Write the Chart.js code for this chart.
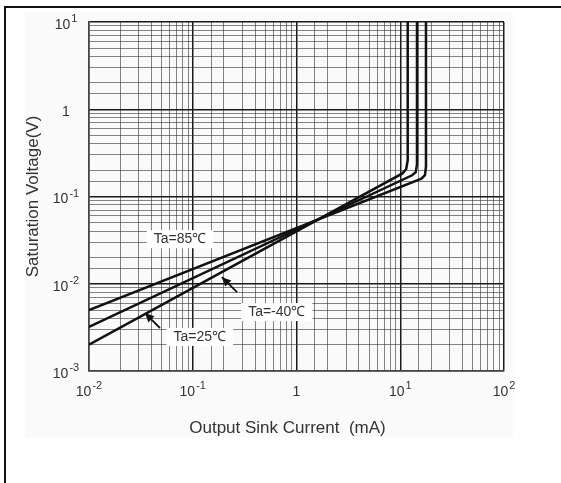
<!DOCTYPE html>
<html>
<head>
<meta charset="utf-8">
<script src="https://cdn.jsdelivr.net/npm/chart.js@4.4.0/dist/chart.umd.min.js"></script>
<style>
  body { margin: 0; background: #fff; }
  #wrap { position: relative; width: 561px; height: 483px; }
  #frame {
    position: absolute; left: 4px; top: 6px; right: 0; bottom: 0;
    border-left: 2px solid #111; border-top: 2px solid #111;
    pointer-events: none;
  }
</style>
</head>
<body>
<div id="wrap">
  <canvas id="grafico-saturacao"></canvas>
  <div id="frame"></div>
</div>
<script>
// Output sink current (mA) vs saturation voltage (V)
const currentTa85 = [0.01, 16, 17.3, 17.7, 17.7];
const voltageTa85 = [0.005, 0.16, 0.176, 0.22, 10];

const currentTaMinus40 = [0.01, 13, 14.1, 14.5, 14.5];
const voltageTaMinus40 = [0.0032, 0.175, 0.19, 0.235, 10];

const currentTa25 = [0.01, 10.5, 11.4, 11.8, 11.8];
const voltageTa25 = [0.002, 0.184, 0.205, 0.26, 10];

// decade tick labels: [base, exponent]
const xTickValues = [0.01, 0.1, 1, 10, 100];
const xTickLabels = [['10', '-2'], ['10', '-1'], ['1', ''], ['10', '1'], ['10', '2']];
const yTickValues = [0.001, 0.01, 0.1, 1, 10];
const yTickLabels = [['10', '-3'], ['10', '-2'], ['10', '-1'], ['1', ''], ['10', '1']];

const xAxisTitle = 'Output Sink Current  (mA)';
const yAxisTitle = 'Saturation Voltage(V)';

// labels with their arrows, in data coordinates
const curveLabels = [
  { text: 'Ta=85℃', x: 0.0754, y: 0.0324 },
  { text: 'Ta=-40℃', x: 0.645, y: 0.00474, arrowFrom: [0.267, 0.00803], arrowTo: [0.191, 0.0119] },
  { text: 'Ta=25℃', x: 0.117, y: 0.00246, arrowFrom: [0.0483, 0.00311], arrowTo: [0.0347, 0.00462] },
];

const toPoints = (xs, ys) => xs.map((x, i) => ({ x: x, y: ys[i] }));

const isDecade = (v) => Math.abs(Math.log10(v) - Math.round(Math.log10(v))) < 1e-6;

const gridColor = (ctx) => {
  if (!ctx.tick) return '#888';
  return isDecade(ctx.tick.value) ? '#1a1a1a' : 'rgba(50,50,50,0.6)';
};
const gridWidth = (ctx) => {
  if (!ctx.tick) return 1;
  return isDecade(ctx.tick.value) ? 1.5 : 1;
};

const fontFamily = "'Liberation Sans', Arial, sans-serif";
const textColor = '#333';

const backdropPlugin = {
  id: 'backdrop',
  beforeDraw(chart) {
    const ctx = chart.ctx;
    ctx.save();
    ctx.fillStyle = '#fafafa';
    ctx.fillRect(25, 12, 488, 425);
    ctx.restore();
  },
};

// draws "10" with a raised exponent, centred on (cx, cy)
function drawPowerLabel(ctx, parts, cx, cy) {
  ctx.font = '14px ' + fontFamily;
  const wBase = ctx.measureText(parts[0]).width;
  ctx.font = '11px ' + fontFamily;
  const wExp = parts[1] ? ctx.measureText(parts[1]).width + 1 : 0;
  const left = cx - (wBase + wExp) / 2;
  ctx.textAlign = 'left';
  ctx.textBaseline = 'middle';
  ctx.fillStyle = textColor;
  ctx.font = '14px ' + fontFamily;
  ctx.fillText(parts[0], left, cy);
  if (parts[1]) {
    ctx.font = '11px ' + fontFamily;
    ctx.fillText(parts[1], left + wBase + 1, cy - 6);
  }
}

const axisTextPlugin = {
  id: 'axisText',
  afterDraw(chart) {
    const ctx = chart.ctx;
    const xs = chart.scales.x;
    const ys = chart.scales.y;
    const area = chart.chartArea;
    ctx.save();
    xTickValues.forEach((v, i) => {
      drawPowerLabel(ctx, xTickLabels[i], xs.getPixelForValue(v), area.bottom + 21);
    });
    yTickValues.forEach((v, i) => {
      drawPowerLabel(ctx, yTickLabels[i], 66, ys.getPixelForValue(v) + 3);
    });

    ctx.font = '17px ' + fontFamily;
    ctx.fillStyle = textColor;
    ctx.textAlign = 'center';
    ctx.textBaseline = 'middle';
    ctx.fillText(xAxisTitle, (area.left + area.right) / 2 - 9, area.bottom + 57);

    ctx.translate(33, (area.top + area.bottom) / 2);
    ctx.rotate(-Math.PI / 2);
    ctx.fillText(yAxisTitle, 0, 0);
    ctx.restore();
  },
};

const labelPlugin = {
  id: 'curveLabels',
  afterDatasetsDraw(chart) {
    const ctx = chart.ctx;
    const xs = chart.scales.x;
    const ys = chart.scales.y;
    ctx.save();
    ctx.font = '14px ' + fontFamily;
    ctx.textAlign = 'center';
    ctx.textBaseline = 'middle';
    curveLabels.forEach((lab) => {
      const px = xs.getPixelForValue(lab.x);
      const py = ys.getPixelForValue(lab.y);
      const w = ctx.measureText(lab.text).width;
      ctx.fillStyle = '#fff';
      ctx.fillRect(px - w / 2 - 7, py - 9, w + 14, 18);
      ctx.fillStyle = textColor;
      ctx.fillText(lab.text, px, py);

      if (lab.arrowFrom) {
        const x0 = xs.getPixelForValue(lab.arrowFrom[0]);
        const y0 = ys.getPixelForValue(lab.arrowFrom[1]);
        const x1 = xs.getPixelForValue(lab.arrowTo[0]);
        const y1 = ys.getPixelForValue(lab.arrowTo[1]);
        const ang = Math.atan2(y1 - y0, x1 - x0);
        ctx.strokeStyle = '#111';
        ctx.lineWidth = 1.8;
        ctx.beginPath();
        ctx.moveTo(x0, y0);
        ctx.lineTo(x1, y1);
        ctx.stroke();
        ctx.fillStyle = '#111';
        ctx.beginPath();
        ctx.moveTo(x1, y1);
        ctx.lineTo(x1 - 10 * Math.cos(ang - 0.45), y1 - 10 * Math.sin(ang - 0.45));
        ctx.lineTo(x1 - 10 * Math.cos(ang + 0.45), y1 - 10 * Math.sin(ang + 0.45));
        ctx.closePath();
        ctx.fill();
      }
    });
    ctx.restore();
  },
};

const lineStyle = {
  borderColor: '#111',
  borderWidth: 2.5,
  pointRadius: 0,
  showLine: true,
  fill: false,
  tension: 0,
};

new Chart(document.getElementById('grafico-saturacao'), {
  type: 'scatter',
  plugins: [backdropPlugin, labelPlugin, axisTextPlugin],
  data: {
    datasets: [
      { label: 'Ta=85℃', data: toPoints(currentTa85, voltageTa85), ...lineStyle },
      { label: 'Ta=-40℃', data: toPoints(currentTaMinus40, voltageTaMinus40), ...lineStyle },
      { label: 'Ta=25℃', data: toPoints(currentTa25, voltageTa25), ...lineStyle },
    ],
  },
  options: {
    responsive: true,
    maintainAspectRatio: false,
    animation: false,
    layout: { padding: { top: 22, right: 57, left: 0, bottom: 0 } },
    plugins: {
      legend: { display: false },
      tooltip: { enabled: false },
    },
    scales: {
      x: {
        type: 'logarithmic',
        min: 0.01,
        max: 100,
        afterFit: (scale) => { scale.height = 112; },
        grid: { color: gridColor, lineWidth: gridWidth, drawTicks: false },
        border: { color: '#444', width: 1.5 },
        ticks: {
          autoSkip: false,
          maxRotation: 0,
          callback: () => '',
        },
      },
      y: {
        type: 'logarithmic',
        min: 0.001,
        max: 10,
        afterFit: (scale) => { scale.width = 89; },
        grid: { color: gridColor, lineWidth: gridWidth, drawTicks: false },
        border: { color: '#444', width: 1.5 },
        ticks: {
          autoSkip: false,
          callback: () => '',
        },
      },
    },
  },
});
</script>
</body>
</html>
